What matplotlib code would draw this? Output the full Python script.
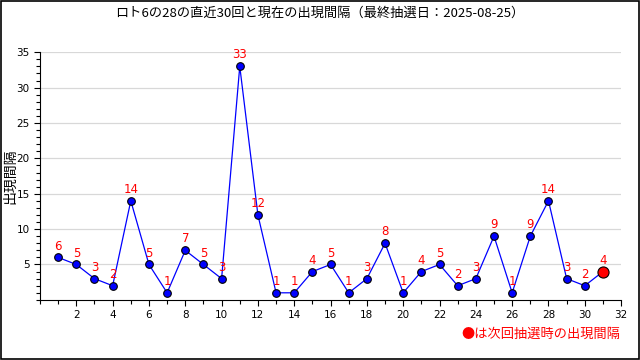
import matplotlib.pyplot as plt
from matplotlib.ticker import MultipleLocator

plt.rcParams['font.family'] = ['Noto Sans CJK JP', 'DejaVu Sans']

# Data: appearance intervals for the last 30 draws, plus the current one
draws = list(range(1, 32))
intervals = [6, 5, 3, 2, 14, 5, 1, 7, 5, 3, 33, 12, 1, 1, 4, 5, 1, 3, 8, 1,
             4, 5, 2, 3, 9, 1, 9, 14, 3, 2, 4]
title = "ロト6の28の直近30回と現在の出現間隔（最終抽選日：2025-08-25）"
ylabel = "出現間隔"
note = "●は次回抽選時の出現間隔"

fig = plt.figure(figsize=(6.4, 3.6), dpi=100)
ax = fig.add_axes([0.0625, 0.167, 0.908, 0.688])

# Outer border
fig.patches.append(plt.Rectangle((0.001, 0.002), 0.997, 0.995, transform=fig.transFigure,
                                 fill=False, edgecolor="black", linewidth=1.2))

ax.plot(draws, intervals, color="blue", linewidth=0.9, zorder=3)
ax.plot(draws[:-1], intervals[:-1], linestyle="none", marker="o", markersize=5.5,
        markerfacecolor="blue", markeredgecolor="black", markeredgewidth=0.8, zorder=4)
ax.plot(draws[-1:], intervals[-1:], linestyle="none", marker="o", markersize=8,
        markerfacecolor="red", markeredgecolor="black", markeredgewidth=0.8, zorder=4)

for x, y in zip(draws, intervals):
    ax.annotate(str(y), (x, y), xytext=(0, 3.5), textcoords="offset points",
                ha="center", va="bottom", color="red", fontsize=8.5,
                family="DejaVu Sans", zorder=5)

ax.set_xlim(0, 32)
ax.set_ylim(0, 35)
ax.xaxis.set_minor_locator(MultipleLocator(1))
ax.yaxis.set_minor_locator(MultipleLocator(1))
ax.set_xticks(range(2, 33, 2))
ax.set_yticks(range(5, 36, 5))
ax.tick_params(axis="both", which="major", labelsize=7.5, length=4, width=0.8)
ax.tick_params(axis="both", which="minor", length=3, width=0.8)
for lab in ax.get_xticklabels() + ax.get_yticklabels():
    lab.set_family("DejaVu Sans")

ax.grid(axis="y", color="#d8d8d8", linewidth=0.9)
ax.set_axisbelow(True)
for side in ("top", "right"):
    ax.spines[side].set_visible(False)

ax.set_ylabel(ylabel, fontsize=10)
ax.yaxis.set_label_coords(-0.04, 0.5)
fig.text(0.5, 0.962, title, ha="center", va="center", fontsize=9.5)
fig.text(0.97, 0.072, note, ha="right", va="center", fontsize=9.5, color="red")

fig.savefig("out.png", dpi=100)
